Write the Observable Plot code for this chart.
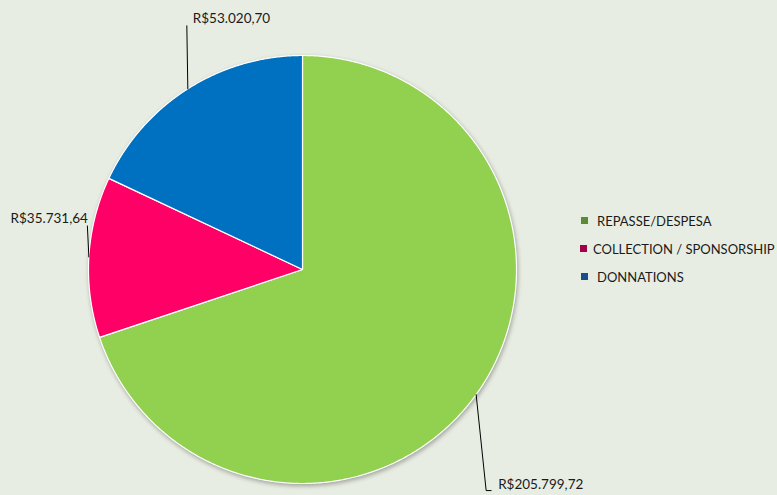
<!DOCTYPE html>
<html><head><meta charset="utf-8">
<script src="https://cdn.jsdelivr.net/npm/d3@7"></script>
<script src="https://cdn.jsdelivr.net/npm/@observablehq/plot@0.6"></script>
<style>
html,body{margin:0;padding:0;background:#E8EDE3;}
#wrap{position:relative;width:777px;height:495px;font-family:Lato,"Open Sans",sans-serif;}
#legend{position:absolute;left:0;top:0;}
.li{position:absolute;display:flex;align-items:center;font-size:13px;color:#1a1a1a;white-space:nowrap;}
.sw{display:inline-block;width:7px;height:7px;}
</style></head>
<body><div id="wrap"><div id="legend"></div></div>
<script>
const categories = ["REPASSE/DESPESA", "COLLECTION / SPONSORSHIP", "DONNATIONS"];
const values = [205799.72, 35731.64, 53020.70];
const valueLabels = ["R$205.799,72", "R$35.731,64", "R$53.020,70"];
const sliceColors = ["#92D050", "#FF0066", "#0070C0"];
const legendColors = ["#5B8C33", "#A3004A", "#15508C"];

// layout (pixel offsets, y downward, from each slice's outer mid-point)
const R = 214;
const leaderPx = [
  [[0,0],[10,96],[15,96]],
  [[0,0],[-1.5,-31]],
  [[0,0],[-1,-63]]
];
const labelPx = [[22,90,"start"],[-1,-38,"end"],[5,-70,"start"]];
const legendPos = [[581,597,221],[580,593,249],[581,597,277]];

const slices = d3.pie().sort(null).value(d => d)(values);
const poly = [];
slices.forEach((s, i) => {
  poly.push({cat: categories[i], x: 0, y: 0});
  const n = Math.max(2, Math.ceil((s.endAngle - s.startAngle) / 0.005));
  for (let k = 0; k <= n; k++) {
    const a = s.startAngle + (s.endAngle - s.startAngle) * k / n;
    poly.push({cat: categories[i], x: Math.sin(a), y: Math.cos(a)});
  }
});
const leaders = [], labels = [];
slices.forEach((s, i) => {
  const m = (s.startAngle + s.endAngle) / 2;
  const mx = Math.sin(m), my = Math.cos(m);
  leaderPx[i].forEach(([dx, dy]) => leaders.push({cat: categories[i], x: mx + dx / R, y: my - dy / R}));
  const [lx, ly, anchor] = labelPx[i];
  labels.push({text: valueLabels[i], x: mx + lx / R, y: my - ly / R, anchor});
});

const chart = Plot.plot({
  width: 777, height: 495, margin: 0,
  style: {background: "transparent", fontFamily: "Lato, 'Open Sans', sans-serif"},
  x: {domain: [-1, 1], range: [302 - R, 302 + R], axis: null},
  y: {domain: [-1, 1], range: [269 + R, 269 - R], axis: null},
  color: {domain: categories, range: sliceColors},
  marks: [
    Plot.line(poly, {x: "x", y: "y", z: "cat", fill: "cat", stroke: "#ffffff", strokeWidth: 1.2, curve: "linear-closed", className: "slices"}),
    Plot.line(leaders, {x: "x", y: "y", z: "cat", stroke: "#000", strokeWidth: 1}),
    Plot.text(labels.filter(d => d.anchor === "start"), {x: "x", y: "y", text: "text", textAnchor: "start", fontSize: 13.5, fill: "#1a1a1a"}),
    Plot.text(labels.filter(d => d.anchor === "end"), {x: "x", y: "y", text: "text", textAnchor: "end", fontSize: 13.5, fill: "#1a1a1a"})
  ]
});
const wrap = document.getElementById("wrap");
wrap.insertBefore(chart, wrap.firstChild);
const sl = chart.querySelector("g.slices") || chart.querySelector('g[aria-label="line"]');
if (sl) sl.style.filter = "drop-shadow(1px 2px 2px rgba(0,0,0,0.3))";

const leg = document.getElementById("legend");
categories.forEach((c, i) => {
  const [sx, tx, cy] = legendPos[i];
  const sw = document.createElement("div");
  sw.className = "sw";
  sw.style.cssText = `position:absolute;left:${sx}px;top:${cy - 4}px;background:${legendColors[i]};`;
  leg.appendChild(sw);
  const t = document.createElement("div");
  t.className = "li";
  t.style.left = tx + "px"; t.style.top = (cy - 9) + "px"; t.style.height = "18px";
  t.textContent = c;
  leg.appendChild(t);
});
</script></body></html>
